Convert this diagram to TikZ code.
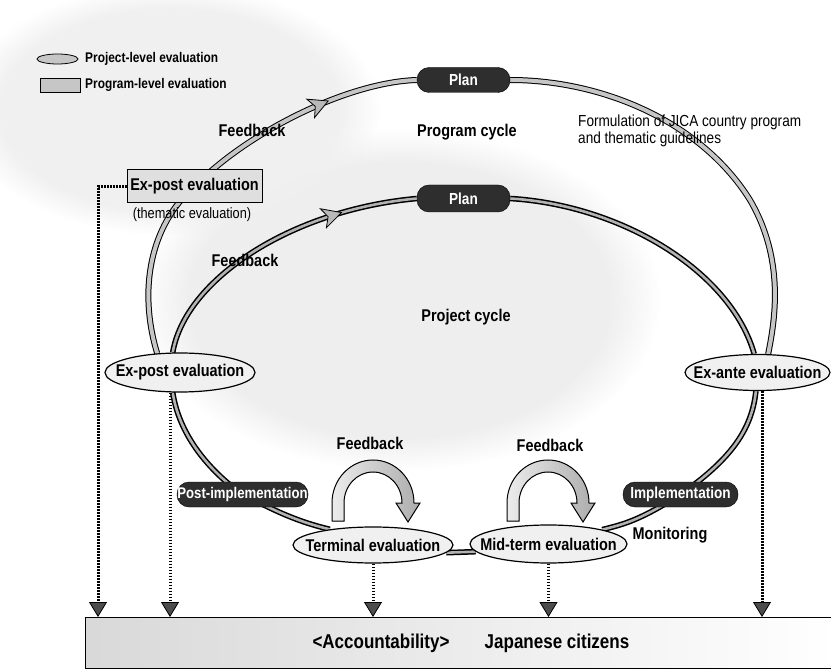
\documentclass[tikz,border=0pt]{standalone}
\usepackage{fontspec}
\setmainfont{Liberation Sans}[FakeStretch=0.85]
\usetikzlibrary{shapes.geometric,arrows.meta,decorations.markings,fadings}
\pgfdeclarelayer{bg}
\pgfsetlayers{bg,main}
\newcommand{\FbArch}[2]{%
  \filldraw[left color=gray!15, right color=gray!65, draw=black, line width=1pt]
   ({#1-41},{#2+18}) -- ({#1-41},#2) arc[start angle=180,end angle=360,x radius=41,y radius=43]
   -- ({#1+47},#2) -- ({#1+35},{#2+19}) -- ({#1+23},#2) -- ({#1+29},#2)
   arc[start angle=360,end angle=180,x radius=29,y radius=31] -- ({#1-29},{#2+18}) -- cycle;}
\begin{document}
\begin{tikzpicture}[x=1pt,y=-1pt,
  prog/.style={draw=black, line width=1pt, double=gray!45, double distance=4pt},
  proj/.style={draw=black, line width=1.5pt, double=gray!60, double distance=2.6pt},
  bandarrow/.style={postaction={decorate}, decoration={markings, mark=at position #1 with {\filldraw[fill=gray!55, draw=black, line width=0.8pt] (9,0) -- (-10,10) -- (-5,0) -- (-10,-10) -- cycle;}}},
  pill/.style={rectangle, rounded corners=12pt, fill=black!82, draw=black, text=white, font=\fontsize{16}{18}\selectfont\bfseries, inner sep=0pt, minimum height=25pt},
  evalell/.style={ellipse, draw=black, line width=1.2pt, fill=gray!12, inner sep=0pt},
  lbl/.style={font=\fontsize{17}{19}\selectfont\bfseries, inner sep=0pt},
  leg/.style={font=\fontsize{14}{16}\selectfont\bfseries, inner sep=0pt},
  haze/.style={fill=gray!#1, path fading=circle with fuzzy edge 20 percent},
  dotarr/.style={line width=3pt, dash pattern=on 1.6pt off 1.4pt, -{Triangle[width=18pt,length=15pt,line width=0.8pt,fill=gray!60!black,color=black]}}
]
\useasboundingbox (0,0) rectangle (831,671);
\begin{pgfonlayer}{bg}
\fill[white] (0,0) rectangle (831,671);
\fill[haze=13] (400,300) ellipse[x radius=260, y radius=170];
\fill[haze=12] (170,110) ellipse[x radius=210, y radius=125];
\end{pgfonlayer}

% legend
\node[ellipse, draw, fill=gray!45, minimum width=41pt, minimum height=10pt, inner sep=0pt, line width=0.8pt] (legell) at (57.5,59) {};
\node[rectangle, draw, fill=gray!45, minimum width=40pt, minimum height=14pt, inner sep=0pt, line width=0.8pt] (legrect) at (60,85) {};
\node[leg, anchor=west] (legt1) at (85,59) {Project-level evaluation};
\node[leg, anchor=west] (legt2) at (85,85) {Program-level evaluation};

% pills
\node[pill, minimum width=93pt] (plan1) at (463.5,80) {Plan};
\node[pill, minimum width=93pt, minimum height=27pt] (plan2) at (463.5,198.5) {Plan};
\node[pill, minimum width=131pt, font=\fontsize{15.5}{18}\selectfont\bfseries] (post) at (242.5,494.5) {Post-implementation};
\node[pill, minimum width=115pt] (impl) at (680.5,494.5) {Implementation};

% evaluation ellipses
\node[evalell, minimum width=150pt, minimum height=39pt, label={[lbl]center:Ex-post evaluation}] (expost) at (180,372.5) {};
\node[evalell, minimum width=145pt, minimum height=36pt, label={[lbl]center:Ex-ante evaluation}] (exante) at (757.5,372.5) {};
\node[evalell, minimum width=160pt, minimum height=36pt, label={[lbl]center:Terminal evaluation}] (term) at (373,545) {};
\node[evalell, minimum width=157pt, minimum height=38pt, label={[lbl]center:Mid-term evaluation}] (mid) at (548.5,544) {};

% program-level box
\node[rectangle, draw, line width=1pt, fill=gray!25, minimum width=135pt, minimum height=33pt, lbl] (box) at (194.5,186.5) {Ex-post evaluation};
\node[font=\fontsize{15}{17}\selectfont, inner sep=0pt] (them) at (192,215) {(thematic evaluation)};

% texts
\node[lbl] (progc) at (467,132) {Program cycle};
\node[lbl] (projc) at (466,317) {Project cycle};
\node[font=\fontsize{16}{17}\selectfont, align=left, anchor=west, inner sep=0pt] (form) at (578,130.5) {Formulation of JICA country program\\and thematic guidelines};
\node[lbl] (fb1) at (252,130) {Feedback};
\node[lbl] (fb2) at (245,260) {Feedback};
\node[lbl] (fb3) at (370,443) {Feedback};
\node[lbl] (fb4) at (550,445) {Feedback};
\node[lbl] (mon) at (670,535) {Monitoring};

% feedback arches
\FbArch{373}{503}
\FbArch{548}{503}

% bottom box
\node[rectangle, draw, line width=1.2pt, left color=gray!30, right color=white, minimum width=750pt, minimum height=51pt, inner sep=0pt, anchor=north west] (accbox) at (85,617) {};
\node[font=\fontsize{20}{22}\selectfont\bfseries, inner sep=0pt] (acc) at (381,643) {<Accountability>};
\node[font=\fontsize{20}{22}\selectfont\bfseries, inner sep=0pt] (jp) at (557,643) {Japanese citizens};

% connectors
\begin{pgfonlayer}{bg}
\draw[prog] (expost.140) .. controls (138,290) and (150,225) .. (box.center);
\draw[prog, bandarrow=0.6] (box.center) .. controls (250,130) and (350,82) .. (plan1.west);
\draw[prog] (plan1.east) .. controls (600,80) and (700,120) .. (750,200) .. controls (785,260) and (775,320) .. (exante.60);
\draw[proj, bandarrow=0.72] (expost.110) .. controls (185,280) and (290,210) .. (plan2.west);
\draw[proj] (plan2.east) .. controls (620,205) and (730,270) .. (exante.100);
\draw[proj] (exante.265) .. controls (752,430) and (730,460) .. (impl.center) .. controls (640,520) and (625,524) .. (mid.15);
\draw[proj] (mid.186) -- (term.-6);
\draw[proj] (term.160) .. controls (290,520) and (265,505) .. (post.center) .. controls (215,475) and (180,440) .. (expost.250);
\end{pgfonlayer}

% dotted arrows
\coordinate (dl) at (98,186.5);
\coordinate (d1) at ([xshift=-10pt]expost.south);
\coordinate (d4) at ([xshift=4.5pt]exante.south);
\draw[dotarr] (box.west) -- (dl) -- (dl |- accbox.north);
\draw[dotarr] (d1) -- (d1 |- accbox.north);
\draw[dotarr] (term.south) -- (term.south |- accbox.north);
\draw[dotarr] (mid.south) -- (mid.south |- accbox.north);
\draw[dotarr] (d4) -- (d4 |- accbox.north);
\end{tikzpicture}
\end{document}
